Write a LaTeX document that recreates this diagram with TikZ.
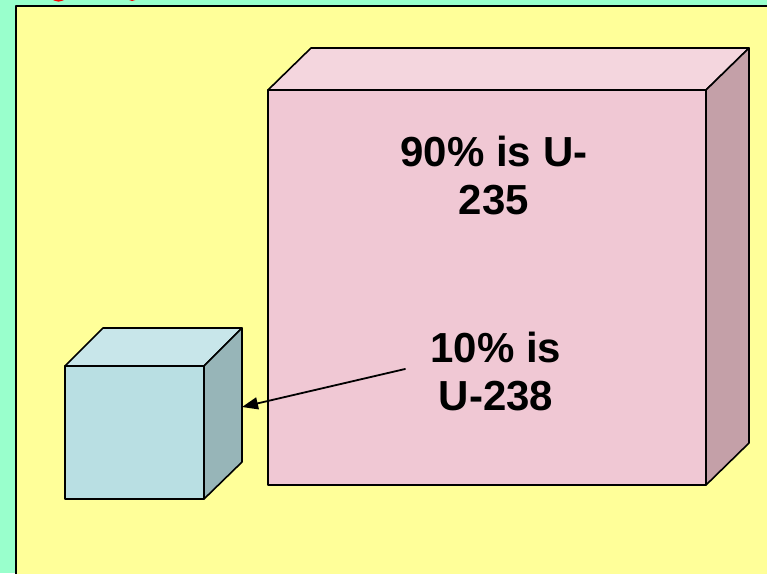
\documentclass[tikz,border=0pt]{standalone}
\usepackage{fontspec}
\setmainfont{Liberation Sans}
\usetikzlibrary{arrows.meta}
\definecolor{bgaqua}{RGB}{153,255,204}
\definecolor{paneyellow}{RGB}{255,255,153}
\definecolor{bigfront}{RGB}{240,200,212}
\definecolor{bigtop}{RGB}{244,214,222}
\definecolor{bigside}{RGB}{196,160,168}
\definecolor{smallfront}{RGB}{185,223,227}
\definecolor{smalltop}{RGB}{200,230,234}
\definecolor{smallside}{RGB}{151,181,184}
\tikzset{
  face/.style={draw=black,line width=1.6pt},
  bigtext/.style={align=center,font=\bfseries\fontsize{42}{48}\selectfont}
}

\begin{document}
\begin{tikzpicture}[line cap=round,line join=round,x=1pt,y=-1pt]
    \useasboundingbox (0,0) rectangle (767,573);
    \clip (0,0) rectangle (767,573);
    \fill [bgaqua] (0,0) rectangle (767,573);
    % bits of the red heading above the panel
    \draw [red,line width=3pt] (51,-4) .. controls (55,1.5) and (62,1.5) .. (66,-4);
    \draw [red,line width=3pt] (127,-4) .. controls (130,0.5) and (134,0.5) .. (138,-4);
    \draw [line width=2pt,fill=paneyellow] (16,6) rectangle (800,620);
    % large block
    \draw [face,fill=bigfront] (268,90) rectangle (706,485);
    \draw [face,fill=bigtop] (268,90)-- (311,48)-- (749,48)-- (706,90)-- cycle;
    \draw [face,fill=bigside] (706,90)-- (749,48)-- (749,443)-- (706,485)-- cycle;
    % small block
    \draw [face,fill=smallfront] (65,366) rectangle (204,499);
    \draw [face,fill=smalltop] (65,366)-- (103,328)-- (242,328)-- (204,366)-- cycle;
    \draw [face,fill=smallside] (204,366)-- (242,328)-- (242,462)-- (204,499)-- cycle;
    \coordinate (smallface) at (242,407);
    % labels
    \node [bigtext] (hightext) at (494,176) {90\% is U-\\235};
    \node [bigtext] (lowtext) at (496,372) {10\% is\\U-238};
    \draw [line width=1.8pt,-{Triangle[length=16pt,width=12pt]}] ([shift={(-22,-3)}]lowtext.west)-- (smallface);
\end{tikzpicture}
\end{document}
